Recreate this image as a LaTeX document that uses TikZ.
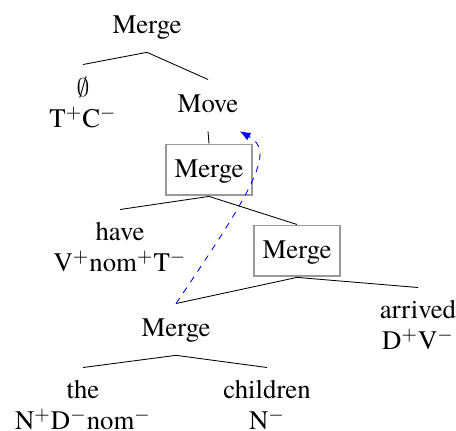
\documentclass[tikz,border=0pt]{standalone}
\usepackage{fontspec}
\setmainfont{texgyretermes}[Extension=.otf, UprightFont=*-regular, Ligatures=TeX]
\usetikzlibrary{arrows.meta, positioning}

\begin{document}
\begin{tikzpicture}[
    x=0.467pt, y=-0.467pt,
    tn/.style={anchor=north, align=center, inner xsep=4pt, inner ysep=5.8pt,
        font=\rmfamily\fontsize{12.5}{14.5}\selectfont,
        execute at begin node={\rule{0pt}{9.4pt}},
        execute at end node={\rule[-2.8pt]{0pt}{2.8pt}}},
    hl/.style={tn, draw=black!40, line width=0.9pt},
    moved/.style={-{Latex[length=5pt, width=4pt]}, blue, dashed}
]
    \useasboundingbox (0,0) rectangle (456,430);

    \node[tn] (top) at (147,0.5) {Merge};
    \node[tn] (comp) at (83,64.5) {$\emptyset$\\T$^{+}$C$^{-}$};
    \node[tn] (move) at (208,79.5) {Move};
    \node[hl] (mergeA) at (209,143.5) {Merge};
    \node[tn] (have) at (120,209.5) {have\\V$^{+}$nom$^{+}$T$^{-}$};
    \node[hl] (mergeB) at (297,224.5) {Merge};
    \node[tn] (subj) at (176,303.5) {Merge};
    \node[tn] (arrived) at (418,287.5) {arrived\\D$^{+}$V$^{-}$};
    \node[tn] (the) at (83,367.5) {the\\N$^{+}$D$^{-}$nom$^{-}$};
    \node[tn] (children) at (267,367.5) {children\\N$^{-}$};

    \draw (top.south) -- (comp.north);
    \draw (top.south) -- (move.north);
    \draw (move.south) -- (mergeA.north);
    \draw (mergeA.south) -- (have.north);
    \draw (mergeA.south) -- (mergeB.north);
    \draw (mergeB.south) -- (subj.north);
    \draw (mergeB.south) -- (arrived.north);
    \draw (subj.south) -- (the.north);
    \draw (subj.south) -- (children.north);

    % movement of the subject
    \draw[moved] (subj.north) .. controls +(84,-123.5) and +(34,19) .. ([xshift=-3.5pt]move.south east);
\end{tikzpicture}
\end{document}
